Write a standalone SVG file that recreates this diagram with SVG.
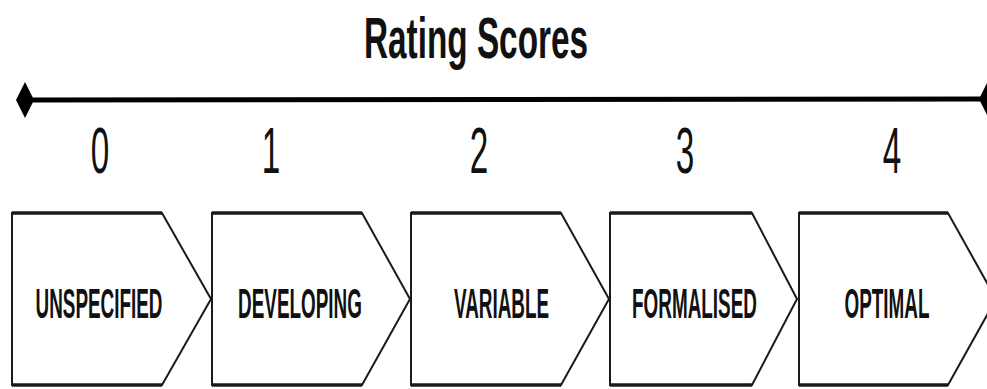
<svg xmlns="http://www.w3.org/2000/svg" width="987" height="389" viewBox="0 0 987 389">
<style>
.title{font-family:"Liberation Sans",Arial,sans-serif;font-weight:bold;font-size:57px;fill:#111;text-anchor:middle}
.num{font-family:"Liberation Sans",Arial,sans-serif;font-size:64px;fill:#111;text-anchor:middle}
.lbl{font-family:"Liberation Sans",Arial,sans-serif;font-weight:bold;font-size:42px;fill:#111;text-anchor:middle}
.box{fill:#fff;stroke:#1a1a1a;stroke-width:2;stroke-linejoin:miter}
.edge{stroke:#1a1a1a;stroke-width:3.5;fill:none}
.axis{stroke:#000;stroke-width:5;fill:none}
</style>
<defs>
<marker id="dia" viewBox="-9 -18 18 36" markerWidth="18" markerHeight="36" refX="0" refY="0" markerUnits="userSpaceOnUse" orient="auto">
<path d="M-9,0 L0,-18 L9,0 L0,18 Z" fill="#000"/>
</marker>
</defs>
<rect width="987" height="389" fill="#fff"/>
<text class="title" transform="translate(476,58) scale(0.585,1)">Rating Scores</text>
<g id="axis">
<line class="axis" x1="25" y1="100" x2="988" y2="99" marker-start="url(#dia)" marker-end="url(#dia)"/>
</g>
<g id="scores">
<text class="num" transform="translate(100,173) scale(0.52,1)">0</text>
<text class="num" transform="translate(271,173) scale(0.52,1)">1</text>
<text class="num" transform="translate(479,173) scale(0.52,1)">2</text>
<text class="num" transform="translate(685,173) scale(0.52,1)">3</text>
<text class="num" transform="translate(892,173) scale(0.52,1)">4</text>
</g>
<g id="connectors"></g>
<g id="node-unspecified">
<polygon class="box" points="12,213 162,213 211,299 162,385 12,385"/>
<line class="edge" x1="12" y1="213" x2="162" y2="213"/><line class="edge" x1="12" y1="385" x2="162" y2="385"/>
<text class="lbl" transform="translate(99,318) scale(0.45,1)">UNSPECIFIED</text>
</g>
<g id="node-developing">
<polygon class="box" points="212,213 362,213 410,299 362,385 212,385"/>
<line class="edge" x1="212" y1="213" x2="362" y2="213"/><line class="edge" x1="212" y1="385" x2="362" y2="385"/>
<text class="lbl" transform="translate(300,318) scale(0.45,1)">DEVELOPING</text>
</g>
<g id="node-variable">
<polygon class="box" points="411,213 561,213 609,299 561,385 411,385"/>
<line class="edge" x1="411" y1="213" x2="561" y2="213"/><line class="edge" x1="411" y1="385" x2="561" y2="385"/>
<text class="lbl" transform="translate(501.5,318) scale(0.45,1)">VARIABLE</text>
</g>
<g id="node-formalised">
<polygon class="box" points="610,213 752,213 797,299 752,385 610,385"/>
<line class="edge" x1="610" y1="213" x2="752" y2="213"/><line class="edge" x1="610" y1="385" x2="752" y2="385"/>
<text class="lbl" transform="translate(694.5,318) scale(0.45,1)">FORMALISED</text>
</g>
<g id="node-optimal">
<polygon class="box" points="799,213 948,213 996,299 948,385 799,385"/>
<line class="edge" x1="799" y1="213" x2="948" y2="213"/><line class="edge" x1="799" y1="385" x2="948" y2="385"/>
<text class="lbl" transform="translate(887,318) scale(0.45,1)">OPTIMAL</text>
</g>
</svg>
